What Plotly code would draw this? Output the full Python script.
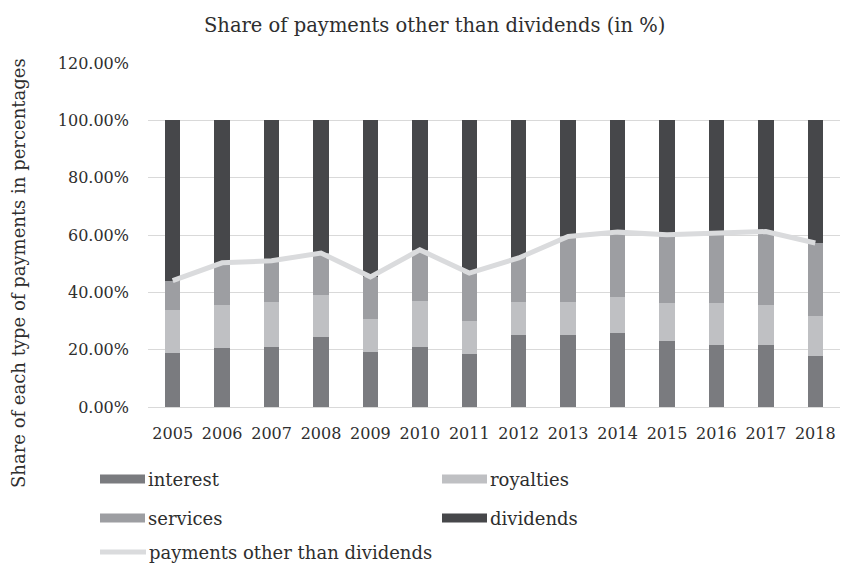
import plotly.graph_objects as go

# Shares of each payment type per year (in %)
years = ["2005", "2006", "2007", "2008", "2009", "2010", "2011",
         "2012", "2013", "2014", "2015", "2016", "2017", "2018"]
interest = [18.8, 20.5, 20.8, 24.3, 19.1, 21.0, 18.4, 25.0, 25.0, 25.7, 23.0, 21.7, 21.7, 17.7]
royalties = [15.1, 15.2, 15.8, 14.9, 11.7, 16.1, 11.7, 11.7, 11.8, 12.7, 13.4, 14.7, 14.0, 13.9]
services = [10.2, 14.6, 14.4, 14.5, 14.6, 17.7, 16.6, 15.3, 22.7, 22.6, 23.7, 24.3, 25.5, 25.6]
dividends = [55.9, 49.7, 49.0, 46.3, 54.6, 45.2, 53.3, 48.0, 40.5, 39.0, 39.9, 39.3, 38.8, 42.8]
other_than_dividends = [44.1, 50.3, 51.0, 53.7, 45.4, 54.8, 46.7, 52.0, 59.5, 61.0, 60.1, 60.7, 61.2, 57.2]

y_ticks = [0, 20, 40, 60, 80, 100, 120]
y_tick_labels = ["0.00%", "20.00%", "40.00%", "60.00%", "80.00%", "100.00%", "120.00%"]

C_INTEREST = "#7a7b7f"
C_ROYALTIES = "#bfc0c3"
C_SERVICES = "#9d9ea2"
C_DIVIDENDS = "#46474a"
C_LINE = "#dadbdd"
TEXT = "#2e2e2e"
FONT = "DejaVu Serif"

W, H = 841, 564
L, R, T, B = 148, 1, 63, 157
PW, PH = W - L - R, H - T - B


def px(x):
    return (x - L) / PW


def py(y):
    return (H - B - y) / PH


fig = go.Figure()
for name, vals, col in [("interest", interest, C_INTEREST),
                        ("royalties", royalties, C_ROYALTIES),
                        ("services", services, C_SERVICES),
                        ("dividends", dividends, C_DIVIDENDS)]:
    fig.add_trace(go.Bar(x=years, y=vals, name=name, marker_color=col,
                         marker_line_width=0, showlegend=False))

fig.add_trace(go.Scatter(x=years, y=other_than_dividends, mode="lines",
                         name="payments other than dividends",
                         line=dict(color=C_LINE, width=5), showlegend=False))

# Legend drawn as swatches + labels in two columns
legend_items = [
    ("interest", C_INTEREST, 100, 479, "bar"),
    ("royalties", C_ROYALTIES, 442, 479, "bar"),
    ("services", C_SERVICES, 100, 518, "bar"),
    ("dividends", C_DIVIDENDS, 442, 518, "bar"),
    ("payments other than dividends", C_LINE, 98, 552, "line"),
]
shapes = []
annotations = []
for label, col, x0, yc, kind in legend_items:
    if kind == "bar":
        shapes.append(dict(type="rect", xref="paper", yref="paper",
                           x0=px(x0), x1=px(x0 + 45), y0=py(yc - 4.5), y1=py(yc + 4.5),
                           fillcolor=col, line_width=0))
        tx = x0 + 46
    else:
        shapes.append(dict(type="line", xref="paper", yref="paper",
                           x0=px(x0 + 2), x1=px(x0 + 48), y0=py(yc), y1=py(yc),
                           line=dict(color=col, width=5)))
        tx = x0 + 49
    annotations.append(dict(text=label, xref="paper", yref="paper",
                            x=px(tx), y=py(yc), xanchor="left", yanchor="middle",
                            showarrow=False, font=dict(family=FONT, size=18, color=TEXT)))

annotations.append(dict(text="Share of payments other than dividends (in %)",
                        xref="paper", yref="paper", x=px(434), y=py(25),
                        xanchor="center", yanchor="middle", showarrow=False,
                        font=dict(family=FONT, size=19.5, color=TEXT)))
annotations.append(dict(text="Share of each type of payments in percentages",
                        xref="paper", yref="paper", x=px(18), y=py(273),
                        xanchor="center", yanchor="middle", showarrow=False,
                        textangle=-90,
                        font=dict(family=FONT, size=18, color=TEXT)))

fig.update_layout(
    width=W, height=H,
    margin=dict(l=L, r=R, t=T, b=B, pad=0),
    paper_bgcolor="white", plot_bgcolor="white",
    barmode="stack", bargap=0.69,
    font=dict(family=FONT, size=16, color=TEXT),
    shapes=shapes, annotations=annotations,
    xaxis=dict(showgrid=False, showline=True, linecolor="#d9d9d9", linewidth=1,
               ticks="", ticklabelstandoff=12, tickfont=dict(size=16, color=TEXT)),
    yaxis=dict(range=[0, 120], tickvals=y_ticks, ticktext=y_tick_labels,
               showgrid=True, gridcolor="#d9d9d9", gridwidth=1, zeroline=False,
               showline=False, ticks="", ticklabelstandoff=18,
               tickfont=dict(size=16, color=TEXT)),
)

fig.write_html("out.html")
